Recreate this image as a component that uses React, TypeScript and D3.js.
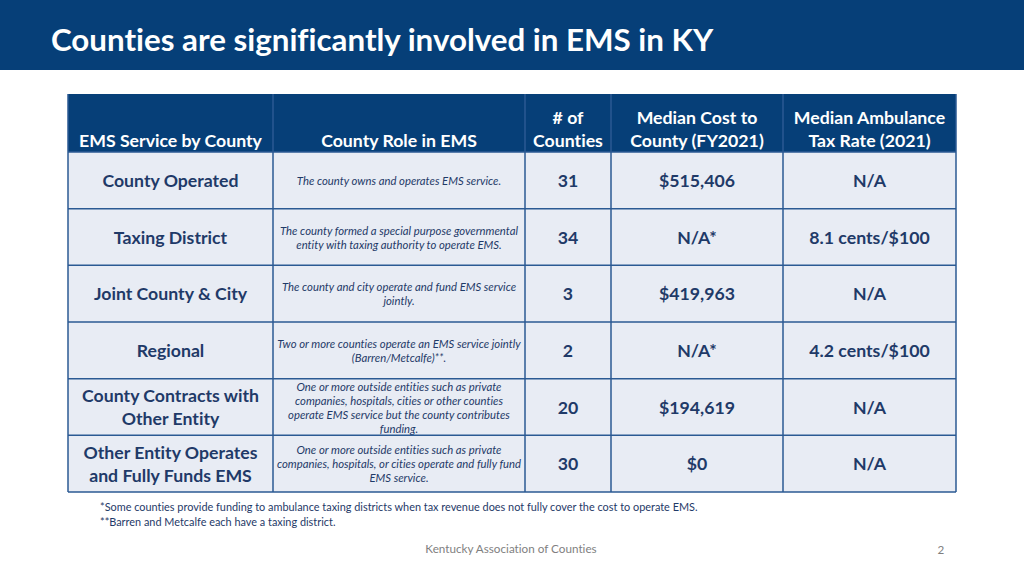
import React from "react";
import * as d3 from "d3";

const title = "Counties are significantly involved in EMS in KY";
const headers = [
  ["EMS Service by County"],
  ["County Role in EMS"],
  ["# of", "Counties"],
  ["Median Cost to", "County (FY2021)"],
  ["Median Ambulance", "Tax Rate (2021)"],
];
const categories = [
  ["County Operated"],
  ["Taxing District"],
  ["Joint County & City"],
  ["Regional"],
  ["County Contracts with", "Other Entity"],
  ["Other Entity Operates", "and Fully Funds EMS"],
];
const roles = [
  ["The county owns and operates EMS service."],
  ["The county formed a special purpose governmental", "entity with taxing authority to operate EMS."],
  ["The county and city operate and fund EMS service", "jointly."],
  ["Two or more counties operate an EMS service jointly", "(Barren/Metcalfe)**."],
  ["One or more outside entities such as private", "companies, hospitals, cities or other counties", "operate EMS service but the county contributes", "funding."],
  ["One or more outside entities such as private", "companies, hospitals, or cities operate and fully fund", "EMS service."],
];
const counts = ["31", "34", "3", "2", "20", "30"];
const costs = ["$515,406", "N/A*", "$419,963", "N/A*", "$194,619", "$0"];
const rates = ["N/A", "8.1 cents/$100", "N/A", "4.2 cents/$100", "N/A", "N/A"];
const footnotes = [
  "*Some counties provide funding to ambulance taxing districts when tax revenue does not fully cover the cost to operate EMS.",
  "**Barren and Metcalfe each have a taxing district.",
];
const footer = "Kentucky Association of Counties";
const pageNum = "2";

const W = 1024, H = 576;
const NAVY = "#063f78";
const TEXT = "#1f3a68";
const FILL = "#e8ecf4";
const LINE = "#2b5a93";
const FONT = "Lato, 'Open Sans', sans-serif";

const colEdges = [68, 273, 525, 611, 783, 956];
const tableTop = 94, headerBottom = 152, tableBottom = 492;

export default function App() {
  const rowIdx = categories.map((_, i) => String(i));
  const y = d3.scaleBand().domain(rowIdx).range([headerBottom, tableBottom]);
  const cols = colEdges.slice(0, -1).map((x0, i) => ({ x0, x1: colEdges[i + 1], cx: (x0 + colEdges[i + 1]) / 2 }));

  const multi = (lines: string[], cx: number, cy: number, lh: number, props: any, key: string) => (
    <text key={key} x={cx} textAnchor="middle" {...props}>
      {lines.map((l, j) => (
        <tspan key={j} x={cx} y={cy + (j - (lines.length - 1) / 2) * lh} dominantBaseline="central">{l}</tspan>
      ))}
    </text>
  );

  const bold = { fontFamily: FONT, fontWeight: 700, fontSize: 17.7, fill: TEXT };
  const ital = { fontFamily: FONT, fontStyle: "italic", fontSize: 11.3, fill: TEXT };

  return (
    <svg width={W} height={H} style={{ position: "absolute", left: 0, top: 0, background: "#fff", fontVariantLigatures: "none" }}>
      <rect x={0} y={0} width={W} height={70} fill={NAVY} />
      <text x={51} y={39} dominantBaseline="central" fill="#fff" fontFamily={FONT} fontWeight={700} fontSize={31.3}>{title}</text>

      <rect x={colEdges[0]} y={tableTop} width={colEdges[5] - colEdges[0]} height={headerBottom - tableTop} fill={NAVY} />
      <rect x={colEdges[0]} y={headerBottom} width={colEdges[5] - colEdges[0]} height={tableBottom - headerBottom} fill={FILL} />

      {headers.map((h, i) => {
        const cy = h.length === 1 ? 140 : 128.5;
        return multi(h, cols[i].cx, cy, 23, { fontFamily: FONT, fontWeight: 700, fontSize: 17.7, fill: "#fff" }, "h" + i);
      })}

      {categories.map((c, i) => {
        const cy = (y(String(i)) as number) + y.bandwidth() / 2;
        return (
          <g key={"r" + i}>
            {multi(c, cols[0].cx, cy, 23, bold, "c")}
            {multi(roles[i], cols[1].cx, cy, 14, ital, "d")}
            {multi([counts[i]], cols[2].cx, cy, 23, bold, "n")}
            {multi([costs[i]], cols[3].cx, cy, 23, bold, "m")}
            {multi([rates[i]], cols[4].cx, cy, 23, bold, "t")}
          </g>
        );
      })}

      {rowIdx.map((r) => (
        <line key={"hl" + r} x1={colEdges[0]} x2={colEdges[5]} y1={y(r)} y2={y(r)} stroke={LINE} strokeWidth={1.5} />
      ))}
      <line x1={colEdges[0]} x2={colEdges[5]} y1={tableBottom} y2={tableBottom} stroke={LINE} strokeWidth={1.5} />
      {colEdges.map((x, i) => (
        <line key={"vl" + i} x1={x} x2={x} y1={tableTop} y2={tableBottom} stroke={LINE} strokeWidth={1.5} />
      ))}

      {footnotes.map((f, i) => (
        <text key={"f" + i} x={100} y={506 + i * 15} dominantBaseline="central" fontFamily={FONT} fontSize={10.9} fill={TEXT}>{f}</text>
      ))}
      <text x={511} y={548} textAnchor="middle" dominantBaseline="central" fontFamily={FONT} fontSize={11.7} fill="#7f7f7f">{footer}</text>
      <text x={941} y={549} textAnchor="middle" dominantBaseline="central" fontFamily={FONT} fontSize={11.7} fill="#7f7f7f">{pageNum}</text>
    </svg>
  );
}
